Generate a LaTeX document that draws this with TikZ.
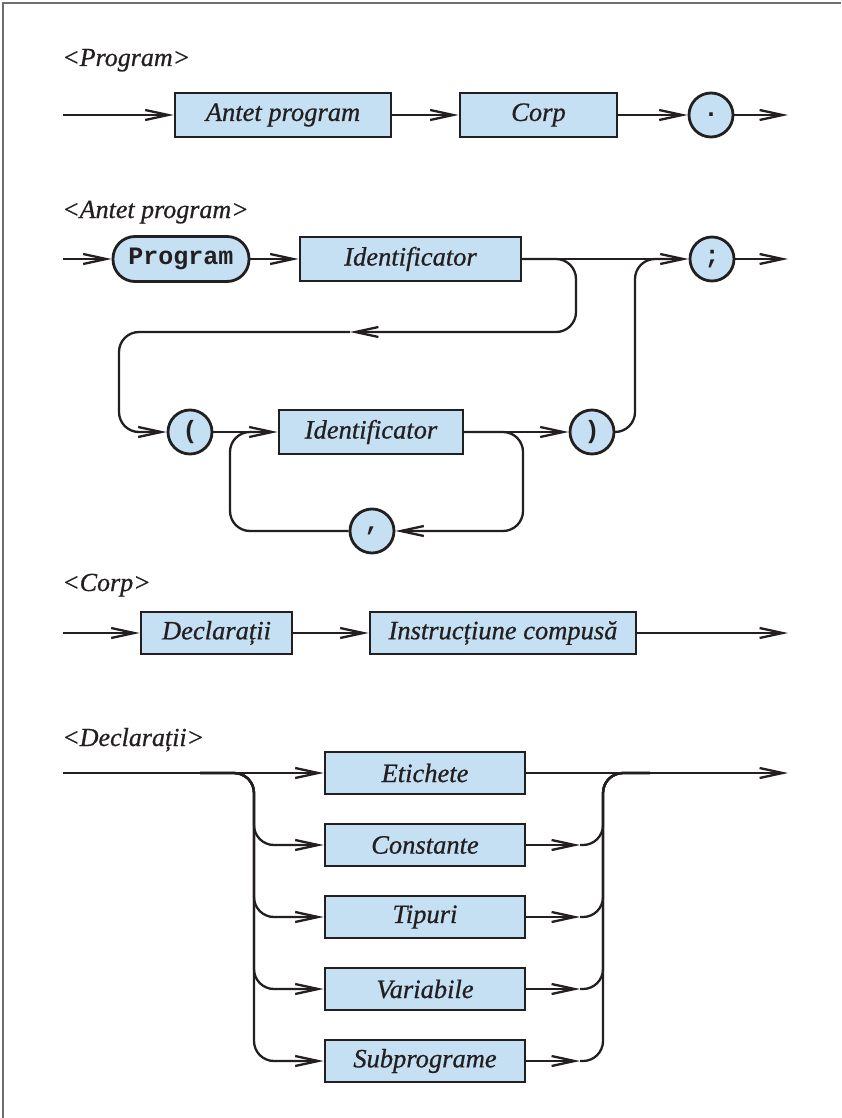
\documentclass[tikz,border=0pt]{standalone}
\usepackage{fontspec}
\setmainfont{Liberation Serif}
\setmonofont{Liberation Mono}
\newfontfamily\labelfont{Liberation Serif}[ItalicFeatures={FakeBold=0.7}]
\usetikzlibrary{arrows.meta}
\definecolor{ink}{HTML}{231F20}
\definecolor{boxfill}{HTML}{C5E0F2}
\definecolor{framegray}{HTML}{6E6E6E}
\tikzset{
  every picture/.style={x=1pt,y=-1pt},
  conn/.style={draw=ink,line width=2.3pt},
  arr/.style={conn,-{Straight Barb[length=23pt,width=10pt]}},
  rconn/.style={conn,rounded corners=20pt},
  rarr/.style={arr,rounded corners=20pt},
  term/.style={draw=ink,line width=2.8pt,fill=boxfill,rectangle,inner sep=0pt,
    font=\fontsize{26.5}{30}\labelfont\itshape,text=ink},
  lit/.style={draw=ink,line width=2.8pt,fill=boxfill,circle,inner sep=0pt,
    minimum size=44pt,font=\fontsize{25}{30}\selectfont\ttfamily\bfseries,text=ink},
  word/.style={draw=ink,line width=2.8pt,fill=boxfill,rectangle,rounded corners=22pt,
    inner sep=0pt,font=\fontsize{25}{30}\selectfont\ttfamily\bfseries,text=ink},
  title/.style={anchor=base west,inner sep=0pt,font=\fontsize{26}{30}\labelfont\itshape,text=ink},
}
\newcommand{\termbox}[5]{\node[term,minimum width=#3pt,minimum height=#4pt] (#1) at #2 {#5};}
\begin{document}
\begin{tikzpicture}
\useasboundingbox (0,0) rectangle (841,1118);
% page frame
\draw[framegray,line width=2pt] (3,1118) -- (3,3) -- (841,3);

% ---------- <Program> ----------
\node[title] (tprog) at (62,66) {<Program>};
\coordinate (p0) at (63,115);
\coordinate (p1) at (788,115);
\termbox{antet}{(283,115)}{216}{44}{Antet program}
\termbox{corp}{(538.5,115)}{157}{44}{Corp}
\node[lit] (dot) at (711,115) {.};
\draw[arr] (p0) -- (antet.west);
\draw[arr] (antet.east) -- (corp.west);
\draw[arr] (corp.east) -- (dot.west);
\draw[arr] (dot.east) -- (p1);

% ---------- <Antet program> ----------
\node[title] (tantet) at (62,218) {<Antet program>};
\coordinate (a0) at (63,259);
\coordinate (a1) at (788,259);
\node[word,minimum width=136pt,minimum height=45pt] (kw) at (181,259) {Program};
\termbox{id1}{(410.5,259)}{221}{44}{Identificator}
\node[lit] (semi) at (712,259) {;};
\node[lit] (lp) at (190,432) {(};
\termbox{id2}{(371,432)}{184}{44}{Identificator}
\node[lit] (rp) at (592,432) {)};
\node[lit] (comma) at (372,531) {,};
\coordinate (back) at (350,332);
\coordinate (join) at (670,259);
\coordinate (loopin) at (265,432);
\draw[arr] (a0) -- (kw.west);
\draw[arr] (kw.east) -- (id1.west);
\draw[arr] (id1.east) -- (semi.west);
\draw[arr] (semi.east) -- (a1);
% optional parameter list
\draw[rarr] (id1.east) -- (576,259) -- (576,332) -- (back);
\draw[rarr] (back) -- (119,332) -- (119,432) -- (lp.west);
\draw[arr] (lp.east) -- (id2.west);
\draw[arr] (id2.east) -- (rp.west);
\draw[rconn] (rp.east) -- (635,432) -- (635,259) -- (join);
% repetition with comma
\draw[rarr] (id2.east) -- (523,432) -- (523,531) -- (comma.east);
\draw[rconn] (comma.west) -- (230,531) -- (230,432) -- (loopin);

% ---------- <Corp> ----------
\node[title] (tcorp) at (62,591) {<Corp>};
\coordinate (c0) at (63,633);
\coordinate (c1) at (788,633);
\termbox{decl}{(216.5,633)}{151}{42}{Declarații}
\termbox{instr}{(503,633)}{266}{42}{Instrucțiune compusă}
\draw[arr] (c0) -- (decl.west);
\draw[arr] (decl.east) -- (instr.west);
\draw[arr] (instr.east) -- (c1);

% ---------- <Declarații> ----------
\node[title] (tdecl) at (62,746) {<Declarații>};
\coordinate (d0) at (63,773);
\coordinate (d1) at (788,773);
\termbox{et}{(425,773)}{200}{42}{Etichete}
\termbox{co}{(425,845)}{200}{42}{Constante}
\termbox{ti}{(425,917)}{200}{42}{Tipuri}
\termbox{va}{(425,989)}{200}{42}{Variabile}
\termbox{su}{(425,1061)}{200}{42}{Subprograme}
\draw[arr] (d0) -- (et.west);
\draw[arr] (et.east) -- (d1);
\foreach \n/\y in {co/845,ti/917,va/989,su/1061}{
  \coordinate (in\n) at (200,773);
  \coordinate (out\n) at (580,\y);
  \coordinate (merge\n) at (650,773);
  \draw[rarr] (in\n) -- (254,773) -- (254,\y) -- (\n.west);
  \draw[arr] (\n.east) -- (out\n);
  \draw[rconn] (out\n) -- (603,\y) -- (603,773) -- (merge\n);
}
\end{tikzpicture}
\end{document}
